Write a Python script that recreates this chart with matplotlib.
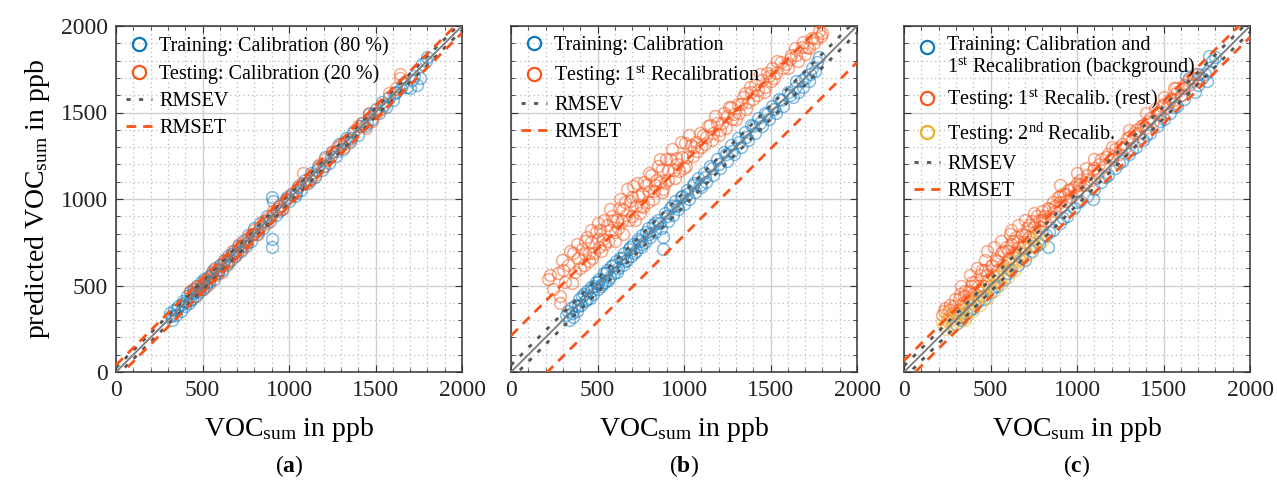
import numpy as np
import matplotlib
matplotlib.use("Agg")
import matplotlib.pyplot as plt
from matplotlib.lines import Line2D

plt.rcParams["font.family"] = ["Liberation Serif", "DejaVu Serif"]
plt.rcParams["mathtext.fontset"] = "custom"
plt.rcParams["mathtext.rm"] = "Liberation Serif"
plt.rcParams["mathtext.it"] = "Liberation Serif:italic"
plt.rcParams["mathtext.bf"] = "Liberation Serif:bold"

# colours (MATLAB-like)
BLUE = "#0A78BE"
ORANGE = "#F9551A"
YELLOW = "#F2B028"
GRAY = "#555555"

AX_MAX = 2000

# ---- panel (a): calibration split 80/20 ----
train_a = [(310, 340), (325, 300), (335, 360), (345, 330), (360, 380), (375, 350), (390, 410),
           (400, 380), (410, 440), (420, 400), (430, 460), (440, 420), (450, 480), (460, 440),
           (470, 500), (480, 460), (490, 520), (500, 480), (510, 540), (520, 500), (530, 550),
           (540, 520), (555, 580), (565, 540), (575, 600), (590, 570), (600, 620), (615, 590),
           (625, 650), (640, 620), (650, 670), (665, 650), (680, 700), (690, 670), (705, 730),
           (720, 700), (735, 760), (750, 730), (765, 790), (780, 760), (800, 830), (815, 800),
           (830, 860), (850, 830), (870, 900), (890, 870), (900, 1010), (900, 770), (900, 720),
           (910, 990), (925, 910), (945, 960), (960, 940), (980, 1000), (1000, 990), (1015, 1030),
           (1035, 1020), (1050, 1070), (1070, 1050), (1090, 1110), (1110, 1090), (1130, 1150),
           (1150, 1130), (1170, 1190), (1190, 1170), (1210, 1240), (1230, 1210), (1250, 1270),
           (1270, 1250), (1290, 1320), (1310, 1290), (1330, 1350), (1350, 1330), (1370, 1390),
           (1400, 1370), (1420, 1440), (1440, 1420), (1460, 1490), (1480, 1460), (1500, 1520),
           (1520, 1500), (1540, 1560), (1560, 1530), (1580, 1590), (1600, 1570), (1620, 1620),
           (1650, 1640), (1680, 1650), (1700, 1640), (1710, 1690), (1740, 1660), (1760, 1700),
           (1770, 1780), (1790, 1800), (1800, 1820),
           (320, 325), (350, 365), (380, 395), (405, 405), (425, 415), (445, 455), (465, 470),
           (485, 480), (505, 510), (525, 520), (550, 560), (570, 565), (595, 590), (620, 625),
           (645, 635), (670, 680), (700, 690), (725, 730), (755, 745), (790, 800), (820, 815),
           (860, 870), (940, 930), (990, 1010), (1040, 1035), (1080, 1090), (1120, 1110),
           (1160, 1170), (1200, 1190), (1240, 1250), (1280, 1275), (1320, 1330), (1360, 1350),
           (1410, 1420), (1450, 1440), (1490, 1500), (1550, 1545), (1610, 1615), (1660, 1670),
           (1720, 1710)]
test_a = [(430, 470), (455, 440), (470, 500), (500, 480), (520, 540), (540, 510), (560, 590),
          (580, 560), (600, 620), (615, 580), (630, 650), (650, 630), (670, 700), (690, 670),
          (710, 740), (730, 710), (750, 770), (780, 790), (800, 820), (820, 800), (850, 870),
          (880, 890), (910, 930), (940, 960), (960, 940), (990, 1000), (1010, 1030), (1040, 1050),
          (1080, 1150), (1100, 1090), (1150, 1140), (1180, 1200), (1210, 1230), (1250, 1270),
          (1300, 1320), (1320, 1300), (1380, 1400), (1420, 1440), (1445, 1410), (1460, 1500),
          (1480, 1450), (1530, 1520), (1580, 1610), (1640, 1700), (1640, 1720),
          (445, 480), (490, 500), (510, 520), (550, 560), (590, 590), (640, 640), (680, 690),
          (720, 720), (760, 750), (790, 800), (830, 840), (870, 860), (900, 910), (930, 940),
          (970, 980), (1060, 1080), (1120, 1110), (1200, 1190), (1280, 1300), (1350, 1340),
          (1400, 1420), (1500, 1500), (1620, 1640)]
rmsev_a, rmset_a = 25, 40

# ---- panel (b): 1st recalibration tested on calibration model ----
train_b = [(320, 330), (335, 300), (345, 370), (355, 340), (370, 390), (380, 350), (395, 420),
           (405, 390), (420, 450), (430, 410), (440, 470), (455, 430), (465, 490), (475, 450),
           (490, 520), (500, 480), (510, 540), (520, 500), (535, 570), (545, 520), (555, 590),
           (570, 550), (580, 610), (595, 570), (605, 640), (620, 600), (630, 660), (645, 620),
           (655, 690), (670, 650), (680, 710), (695, 670), (705, 740), (720, 700), (735, 770),
           (750, 720), (760, 790), (775, 750), (790, 830), (805, 780), (820, 850), (835, 810),
           (850, 880), (865, 830), (880, 780), (880, 710), (890, 920), (905, 870), (920, 950),
           (935, 910), (950, 990), (965, 940), (980, 1010), (1000, 970), (1015, 1050), (1030, 1000),
           (1050, 1080), (1065, 1040), (1080, 1120), (1100, 1070), (1115, 1150), (1130, 1100),
           (1150, 1190), (1170, 1140), (1190, 1230), (1210, 1180), (1230, 1270), (1250, 1220),
           (1270, 1310), (1290, 1260), (1310, 1350), (1330, 1300), (1350, 1390), (1370, 1340),
           (1390, 1430), (1410, 1380), (1430, 1470), (1450, 1420), (1470, 1500), (1490, 1460),
           (1510, 1540), (1530, 1500), (1550, 1580), (1570, 1540), (1600, 1620), (1630, 1590),
           (1650, 1680), (1660, 1620), (1690, 1650), (1700, 1700), (1720, 1680), (1740, 1760),
           (1760, 1740), (1770, 1790), (1780, 1820),
           (330, 350), (360, 320), (390, 380), (410, 440), (440, 420), (460, 470), (480, 500),
           (500, 520), (525, 510), (550, 570), (560, 530), (590, 620), (610, 580), (640, 660),
           (660, 640), (690, 720), (710, 690), (740, 760), (760, 740), (780, 810), (800, 800),
           (830, 860), (860, 860), (900, 900), (930, 960), (960, 960), (990, 1020), (1020, 1030),
           (1060, 1090), (1090, 1080), (1120, 1130), (1160, 1180), (1200, 1200), (1240, 1260),
           (1280, 1280), (1320, 1330), (1360, 1360), (1400, 1420), (1440, 1440), (1480, 1490),
           (1520, 1520), (1560, 1570), (1610, 1600), (1640, 1640), (1680, 1690), (1730, 1720)]
test_b = [(215, 535), (225, 560), (270, 575), (285, 440), (285, 400), (295, 650), (300, 590),
          (330, 620), (355, 515), (360, 690), (390, 660), (400, 600), (410, 710), (425, 680),
          (440, 780), (450, 690), (450, 640), (465, 750), (480, 690), (490, 810), (505, 770),
          (515, 820), (520, 700), (530, 770), (545, 740), (555, 850), (570, 820), (585, 900),
          (600, 810), (600, 760), (610, 880), (625, 950), (640, 870), (650, 940), (665, 910),
          (672, 1055), (680, 880), (690, 990), (700, 900), (705, 1075), (720, 960), (735, 1015),
          (750, 960), (760, 1030), (765, 955), (780, 1080), (795, 1045), (810, 1140), (820, 1000),
          (825, 1045), (840, 1110), (860, 1100), (864, 1230), (875, 1175), (880, 1060), (890, 1090),
          (905, 1165), (920, 1230), (940, 1170), (950, 1120), (955, 1235), (970, 1160), (990, 1240),
          (1000, 1180), (1005, 1325), (1020, 1240), (1040, 1310), (1060, 1300), (1075, 1275),
          (1090, 1380), (1100, 1300), (1110, 1370), (1130, 1360), (1150, 1430), (1170, 1380),
          (1190, 1440), (1200, 1370), (1210, 1400), (1230, 1500), (1250, 1480), (1270, 1530),
          (1290, 1490), (1300, 1460), (1310, 1550), (1330, 1550), (1350, 1610), (1370, 1560),
          (1390, 1620), (1400, 1580), (1410, 1660), (1430, 1630), (1450, 1690), (1470, 1650),
          (1490, 1710), (1500, 1680), (1510, 1760), (1530, 1730), (1560, 1790), (1590, 1780),
          (1600, 1760), (1620, 1830), (1650, 1830), (1680, 1880), (1700, 1840), (1710, 1880),
          (1740, 1930), (1770, 1930), (1790, 1940), (1800, 1960),
          (240, 480), (310, 520), (340, 700), (370, 580), (380, 740), (420, 620), (430, 760),
          (460, 820), (470, 660), (500, 860), (510, 720), (540, 880), (560, 760), (575, 940),
          (590, 870), (620, 830), (630, 1000), (645, 800), (660, 980), (700, 1010), (715, 880),
          (730, 1090), (745, 920), (770, 1100), (790, 980), (800, 1150), (830, 1080), (850, 1190),
          (870, 1040), (895, 1230), (910, 1110), (930, 1290), (960, 1200), (985, 1330),
          (1010, 1190), (1030, 1370), (1050, 1250), (1070, 1330), (1120, 1320), (1140, 1420),
          (1160, 1340), (1180, 1480), (1220, 1440), (1240, 1410), (1260, 1530), (1280, 1460),
          (1320, 1500), (1340, 1590), (1360, 1520), (1380, 1650), (1420, 1600), (1440, 1720),
          (1460, 1620), (1480, 1730), (1520, 1700), (1540, 1800), (1570, 1760), (1610, 1810),
          (1640, 1870), (1660, 1800), (1690, 1910), (1720, 1870), (1750, 1900), (1780, 1970)]
rmsev_b, rmset_b = 40, 210

# ---- panel (c): calibration + 1st recalibration background ----
train_c = [(300, 280), (330, 300), (360, 340), (400, 370), (430, 410), (460, 420), (500, 460),
           (540, 500), (580, 540), (620, 590), (660, 620), (700, 650), (740, 700), (780, 740),
           (820, 790), (835, 725), (860, 820), (900, 860), (940, 900), (980, 950), (1020, 990),
           (1060, 1020), (1090, 1000), (1100, 1060), (1140, 1100), (1180, 1140), (1220, 1180),
           (1260, 1220), (1300, 1260), (1340, 1300), (1380, 1340), (1420, 1380), (1460, 1420),
           (1500, 1460), (1540, 1500), (1580, 1540), (1620, 1580), (1630, 1710), (1650, 1700),
           (1680, 1620), (1700, 1660), (1720, 1700), (1750, 1680), (1760, 1740), (1762, 1826),
           (1780, 1800), (1800, 1820),
           (320, 320), (380, 360), (450, 440), (520, 490), (600, 570), (680, 660), (760, 730),
           (840, 810), (920, 890), (1000, 980), (1160, 1130), (1240, 1210), (1320, 1290),
           (1400, 1370), (1480, 1450), (1560, 1530), (1600, 1600), (1700, 1720), (1740, 1720)]
test_c = [(220, 330), (235, 370), (250, 300), (265, 390), (280, 340), (295, 420), (310, 360),
          (325, 450), (340, 400), (355, 470), (370, 420), (385, 500), (400, 450), (410, 520),
          (425, 470), (440, 560), (455, 500), (470, 590), (485, 530), (500, 610), (515, 560),
          (530, 650), (545, 590), (560, 690), (575, 620), (590, 720), (600, 700), (605, 660),
          (620, 740), (635, 690), (650, 780), (665, 720), (680, 800), (695, 750), (700, 790),
          (710, 830), (725, 780), (740, 870), (755, 810), (770, 900), (785, 840), (800, 930),
          (800, 880), (815, 870), (830, 950), (845, 900), (860, 980), (875, 930), (890, 1010),
          (900, 980), (905, 960), (920, 1030), (935, 990), (950, 1050), (965, 1010), (980, 1070),
          (1000, 1040), (1000, 1090), (1020, 1110), (1040, 1080), (1060, 1140), (1080, 1110),
          (1100, 1180), (1120, 1150), (1140, 1230), (1160, 1190), (1180, 1260), (1200, 1230),
          (1220, 1290), (1240, 1260), (1260, 1320), (1280, 1300), (1300, 1360), (1320, 1340),
          (1340, 1400), (1360, 1380), (1380, 1430), (1400, 1410), (1420, 1470), (1440, 1450),
          (1460, 1500), (1480, 1490), (1500, 1550), (1520, 1530), (1540, 1580), (1560, 1570),
          (1580, 1620), (1600, 1600), (1620, 1660), (1650, 1660), (1680, 1720), (1700, 1700),
          (230, 350), (260, 360), (290, 380), (320, 420), (345, 440), (375, 470), (395, 520),
          (430, 500), (450, 590), (480, 560), (510, 620), (540, 640), (570, 700), (600, 650),
          (630, 760), (660, 760), (690, 720), (720, 850), (750, 840), (780, 880), (810, 900),
          (840, 940), (870, 960), (900, 1020), (930, 1030), (960, 1060), (1010, 1080),
          (1050, 1100), (1090, 1170), (1130, 1200), (1170, 1240), (1210, 1250), (1250, 1300),
          (1290, 1350), (1330, 1380), (1370, 1420), (1410, 1450), (1450, 1520), (1490, 1540),
          (1530, 1560), (1570, 1640), (1610, 1640), (1640, 1690), (1670, 1700),
          (330, 500), (380, 560), (420, 600), (470, 650), (480, 700), (520, 720), (560, 760),
          (610, 800), (620, 820), (660, 850), (700, 880), (750, 920), (900, 1080), (1000, 1150),
          (1050, 1180), (1100, 1230), (1200, 1300), (1300, 1400), (1400, 1500), (1500, 1590),
          (1560, 1640)]
test2_c = [(220, 290), (240, 250), (250, 340), (260, 320), (280, 270), (300, 340), (320, 290),
           (340, 370), (350, 300), (360, 320), (380, 400), (400, 350), (420, 430), (440, 390),
           (460, 470), (480, 430), (500, 510), (520, 470), (540, 550), (560, 510), (580, 590),
           (600, 550), (620, 630), (640, 590), (660, 670), (680, 640), (700, 720), (720, 680),
           (740, 770), (760, 720), (780, 800), (800, 760),
           (230, 270), (270, 300), (310, 330), (330, 340), (370, 360), (410, 400), (450, 440),
           (490, 490), (530, 520), (570, 560), (610, 600), (650, 640), (690, 690), (730, 720),
           (770, 760)]
rmsev_c, rmset_c = 35, 65

ST = "1$^{\\mathrm{st}}$"
panels = [
    dict(series=[(train_a, BLUE, "Training: Calibration (80 %)"),
                 (test_a, ORANGE, "Testing: Calibration (20 %)")],
         rmsev=rmsev_a, rmset=rmset_a, tag="a"),
    dict(series=[(train_b, BLUE, "Training: Calibration"),
                 (test_b, ORANGE, "Testing: " + ST + " Recalibration")],
         rmsev=rmsev_b, rmset=rmset_b, tag="b"),
    dict(series=[(train_c, BLUE, "Training: Calibration and\n" + ST + " Recalibration (background)"),
                 (test_c, ORANGE, "Testing: " + ST + " Recalib. (rest)"),
                 (test2_c, YELLOW, "Testing: 2$^{\\mathrm{nd}}$ Recalib.")],
         rmsev=rmsev_c, rmset=rmset_c, tag="c"),
]

fig = plt.figure(figsize=(12.77, 4.87), dpi=100)
lefts = [116, 511, 904]
line_x = np.array([0, AX_MAX])
V_DASH = (1.5, 3)
T_DASH = (3.5, 2.5)

for left, p in zip(lefts, panels):
    ax = fig.add_axes([left / 1277, 1 - 372 / 487, 346 / 1277, 346 / 487])
    handles = []
    for pts, col, lab in p["series"]:
        xs, ys = zip(*pts)
        ax.plot(xs, ys, "o", mfc="none", mec=col, ms=8.5, mew=1.1, alpha=0.5, zorder=3)
        handles.append(Line2D([], [], ls="none", marker="o", mfc="none", mec=col,
                              ms=9.5, mew=1.6, label=lab))
    ax.plot(line_x, line_x, color="#7a7a7a", lw=1.3, zorder=4)
    for s in (1, -1):
        ax.plot(line_x, line_x + s * p["rmsev"], color=GRAY, lw=2.0, dashes=V_DASH, zorder=5)
        ax.plot(line_x, line_x + s * p["rmset"], color=ORANGE, lw=2.0, dashes=T_DASH, zorder=5)
    handles.append(Line2D([], [], color=GRAY, lw=2.0, dashes=V_DASH, label="RMSEV"))
    handles.append(Line2D([], [], color=ORANGE, lw=2.0, dashes=T_DASH, label="RMSET"))

    ax.set_xlim(0, AX_MAX)
    ax.set_ylim(0, AX_MAX)
    ax.set_xticks(np.arange(0, AX_MAX + 1, 500))
    ax.set_yticks(np.arange(0, AX_MAX + 1, 500))
    ax.set_xticks(np.arange(0, AX_MAX + 1, 100), minor=True)
    ax.set_yticks(np.arange(0, AX_MAX + 1, 100), minor=True)
    ax.grid(which="major", color="#cfcfcf", lw=1.0)
    ax.grid(which="minor", color="#bdbdbd", lw=0.9, ls=(0, (1, 2.5)))
    ax.set_axisbelow(True)
    ax.tick_params(which="both", direction="in", top=True, right=True,
                   colors="#333333", labelcolor="#222222")
    ax.tick_params(which="major", length=5, labelsize=17, pad=6)
    ax.tick_params(which="minor", length=3)
    for sp in ax.spines.values():
        sp.set_color("#333333")
        sp.set_linewidth(1.1)
    if p["tag"] != "a":
        ax.set_yticklabels([])
    else:
        ax.set_ylabel("predicted VOC$_{\\mathrm{sum}}$ in ppb", fontsize=20, labelpad=6)
    ax.set_xlabel("VOC$_{\\mathrm{sum}}$ in ppb", fontsize=20, labelpad=10)

    leg = ax.legend(handles=handles, loc="upper left", bbox_to_anchor=(0, 1),
                    frameon=False, fontsize=14.5, handlelength=1.3, handletextpad=0.35,
                    labelspacing=0.4, borderaxespad=0.1, borderpad=0.4)
    for t in leg.get_texts():
        t.set_linespacing(1.0)
    if p["tag"] == "c":
        # put the marker next to the first line of the two-line label
        mk = leg.legend_handles[0]
        mk.set_ydata(np.asarray(mk.get_ydata()) + 7.5)

    fig.text((left + 173) / 1277, 1 - 466 / 487, "($\\mathbf{%s}$)" % p["tag"],
             ha="center", va="center", fontsize=17)

fig.savefig("out.png", dpi=100)
